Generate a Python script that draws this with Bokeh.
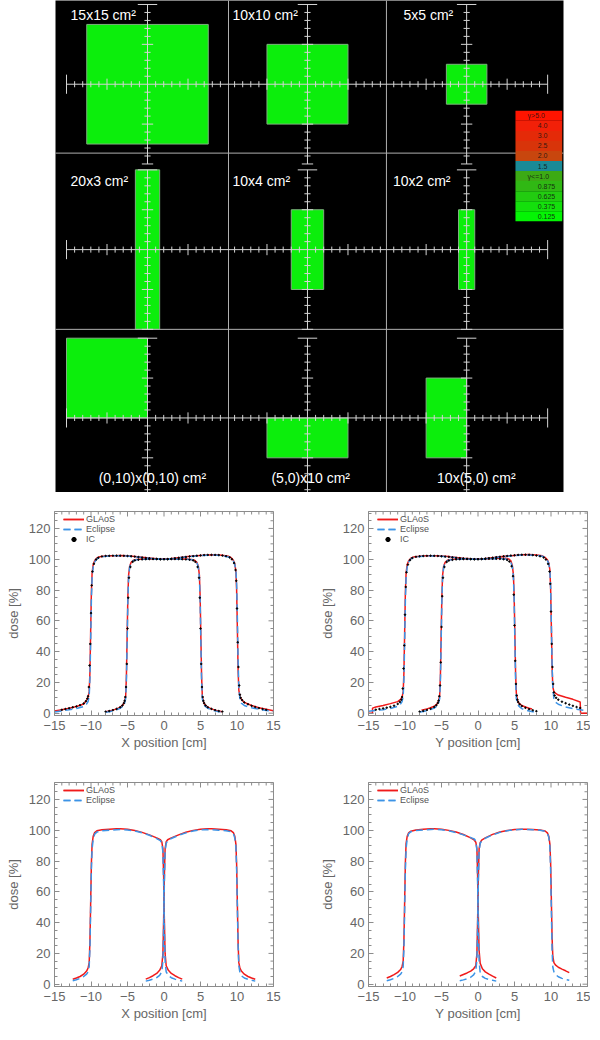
import math
from bokeh.plotting import figure
from bokeh.layouts import column, row
from bokeh.models import Range1d, SingleIntervalTicker, Legend, LegendItem
from bokeh.embed import file_html
from bokeh.resources import INLINE
from bokeh.core.properties import value

FONT = "Liberation Sans"
RED = "#f01a1a"
BLUE = "#3c93e6"
AXC = "#8c8c8c"
TXT = "#666666"

# ---------------- top panel: gamma maps ----------------
field_labels = ["15x15 cm²", "10x10 cm²", "5x5 cm²",
                "20x3 cm²", "10x4 cm²", "10x2 cm²",
                "(0,10)x(0,10) cm²", "(5,0)x10 cm²", "10x(5,0) cm²"]
field_row = [0, 0, 0, 1, 1, 1, 2, 2, 2]
field_col = [0, 1, 2, 0, 1, 2, 0, 1, 2]
field_x1 = [-7.5, -5, -2.5, -1.5, -2, -1, -10, -5, -5]
field_x2 = [7.5, 5, 2.5, 1.5, 2, 1, 0, 5, 0]
field_y1 = [-7.5, -5, -2.5, -10, -5, -5, 0, -5, -5]
field_y2 = [7.5, 5, 2.5, 10, 5, 5, 10, 0, 5]

gamma_labels = ["γ>5.0", "4.0", "3.0", "2.5", "2.0", "1.5",
                "γ<=1.0", "0.875", "0.625", "0.375", "0.125"]
gamma_colors = ["#ff1400", "#f22008", "#e42a08", "#d8340a", "#c8460e", "#1a8a96",
                "#3caa14", "#30b814", "#22cc10", "#14e00c", "#04f404"]

# ---------------- profiles ----------------
# X profiles (20x20 and 10x10)
xw = [-15, -14, -13, -12, -11, -10.6, -10.4, -10.25, -10.15, -10.05, -9.95, -9.85, -9.7, -9.5, -9.2,
      -8.8, -8, -7, -6, -5, -4, -3, -2, -1, 0, 1, 2, 3, 4, 5, 6, 7, 8, 8.8, 9.2,
      9.5, 9.7, 9.85, 9.95, 10.05, 10.15, 10.25, 10.4, 10.6, 11, 12, 13, 14, 15]
glaos_x_wide = [1.5, 2.3, 3.2, 4.3, 6, 8.5, 10.5, 14, 26, 52, 78, 91, 96.5, 99, 100.8,
                101.6, 102.1, 102.3, 102.4, 102.2, 101.8, 101.3, 100.8, 100.3, 100.1,
                100.4, 101, 101.6, 102.1, 102.5, 102.8, 102.9, 102.6, 102, 101,
                99.3, 97, 92, 80, 55, 28, 15, 11, 9, 7, 5, 3.6, 2.5, 1.6]
eclipse_x_wide = [0.8, 1.5, 2.2, 3, 4.3, 6, 7.5, 11, 22, 46, 73, 88, 95, 98.2, 100.2,
                  101.2, 101.9, 102.2, 102.3, 102.1, 101.6, 101.1, 100.6, 100.2, 100,
                  100.2, 100.8, 101.4, 101.9, 102.3, 102.6, 102.7, 102.3, 101.5, 100.5,
                  98.8, 96.5, 92.5, 84, 62, 34, 17, 9, 6.5, 5, 3.5, 2.6, 1.8, 1.2]
xn = [-8, -7.5, -7, -6.5, -6, -5.6, -5.4, -5.25, -5.15, -5.05, -4.95, -4.85, -4.7, -4.5, -4.2,
      -3.8, -3, -2, -1, 0, 1, 2, 3, 3.8, 4.2, 4.5, 4.7, 4.85, 4.95, 5.05,
      5.15, 5.25, 5.4, 5.6, 6, 6.5, 7, 7.5, 8]
glaos_x_narrow = [0.9, 1.4, 2, 2.8, 3.9, 5.6, 7.5, 11, 24, 50, 76, 89.5, 95.5, 98, 99.3,
                  99.8, 100.1, 100.2, 100.1, 100, 100.1, 100.2, 100.1, 99.8, 99.3, 98, 95.5, 89.5, 76, 50,
                  24, 11, 7.5, 5.6, 3.9, 2.8, 2, 1.4, 0.9]
eclipse_x_narrow = [0.6, 1, 1.5, 2.2, 3.2, 4.6, 6.3, 9.5, 21, 46, 73, 88, 95, 97.8, 99.1,
                    99.7, 100, 100.1, 100, 100, 100, 100.1, 100, 99.7, 99.1, 97.8, 95, 88, 73, 46,
                    21, 9.5, 6.3, 4.6, 3.2, 2.2, 1.5, 1, 0.6]
ic_w = [-14, -13.5, -13, -12.5, -12, -11.5, -11,
        -10.7, -10.5, -10.4, -10.3, -10.2, -10.1, -10.0, -9.9, -9.8, -9.6, -9.3, -9,
        -8.5, -8, -7.5, -7, -6.5, -6, -5.5, -5, -4.5, -4, -3.5, -3, -2.5, -2, -1.5, -1, -0.5,
        0, 0.5, 1, 1.5, 2, 2.5, 3, 3.5, 4, 4.5, 5, 5.5, 6, 6.5, 7, 7.5, 8, 8.5,
        9, 9.3, 9.6, 9.8, 9.9, 10.0, 10.1, 10.2, 10.3, 10.4, 10.5, 10.7,
        11, 11.5, 12, 12.5, 13, 13.5, 14]
ic_x_wide = [2.2, 2.7, 3.2, 3.8, 4.4, 5.2, 6.3,
             7.8, 9.5, 11, 17, 31, 45, 65, 83, 92, 97, 99.8, 101,
             101.8, 102.1, 102.2, 102.3, 102.3, 102.3, 102.2, 102.1, 101.9, 101.7, 101.4, 101.1, 100.8,
             100.6, 100.3, 100.2, 100, 100, 100.1, 100.3, 100.6, 100.9, 101.2, 101.5, 101.8, 102, 102.3,
             102.5, 102.7, 102.8, 102.8, 102.8, 102.7, 102.4, 102,
             101.2, 100, 97.5, 93, 86, 68, 46, 30, 18, 12, 10, 8.5,
             7, 5.8, 4.8, 4, 3.3, 2.7, 2.2]
ic_n = [-8, -7.5, -7, -6.5, -6, -5.7, -5.5, -5.4, -5.3, -5.2, -5.1, -5.0, -4.9, -4.8, -4.6, -4.3,
        -4, -3.5, -3, -2.5, -2, -1.5, -1, -0.5, 0, 0.5, 1, 1.5, 2, 2.5, 3, 3.5, 4,
        4.3, 4.6, 4.8, 4.9, 5.0, 5.1, 5.2, 5.3, 5.4, 5.5, 5.7, 6, 6.5, 7, 7.5, 8]
ic_x_narrow = [1, 1.4, 2, 2.8, 3.8, 5, 6.5, 8, 10.5, 17, 32, 55, 75, 88, 95, 98.3,
               99.2, 99.7, 99.9, 100, 100.1, 100.1, 100.1, 100, 100, 100, 100.1, 100.1, 100.1, 100, 99.9, 99.7, 99.2,
               98.3, 95, 88, 75, 55, 32, 17, 10.5, 8, 6.5, 5, 3.8, 2.8, 2, 1.4, 1]

# Y profiles (20x20 and 10x10)
yw_glaos = [-15, -14.45, -14.45, -14, -13, -12, -11, -10.6, -10.4, -10.25, -10.15, -10.05,
            -9.95, -9.85, -9.7, -9.5, -9.2, -8.8, -8, -7, -6, -5, -4, -3, -2, -1, 0,
            1, 2, 3, 4, 5, 6, 7, 8, 8.8, 9.2, 9.5, 9.7, 9.85, 9.95, 10.05,
            10.15, 10.25, 10.4, 10.6, 11, 12, 13, 14, 14.05, 15]
glaos_y_wide = [0, 0, 3.3, 4, 5, 6.2, 7.5, 9, 10.5, 14, 26, 52,
                78, 91, 96.5, 99, 100.7, 101.5, 102, 102.2, 102.3, 102.1, 101.7, 101.2, 100.7, 100.3, 100,
                100.4, 101, 101.6, 102.1, 102.5, 102.9, 103, 102.8, 102.2, 101.2, 99.6, 97.5, 93, 81, 56,
                30, 17, 14, 13, 11.8, 10.3, 9, 7.3, 0, 0]
eclipse_y_wide = [1.2, 1.7, 2.3, 3.1, 4.5, 6, 7.5, 11, 22, 46, 73, 88, 95, 98.2, 100.2,
                  101.1, 101.8, 102, 102.1, 101.9, 101.5, 101, 100.5, 100.2, 100,
                  100.3, 100.8, 101.4, 101.9, 102.3, 102.7, 102.8, 102.6, 102, 101,
                  99.3, 97, 92, 82, 58, 31, 16, 9.5, 7.2, 5.8, 4, 3, 2.2, 1.4]
yn_glaos = [-7.75, -7, -6.5, -6, -5.6, -5.4, -5.25, -5.15, -5.05, -4.95, -4.85, -4.7, -4.5, -4.2,
            -3.8, -3, -2, -1, 0, 1, 2, 3, 3.8, 4.2, 4.5, 4.7, 4.85, 4.95, 5.05,
            5.15, 5.25, 5.4, 5.6, 6, 6.5, 7, 7.4]
glaos_y_narrow = [2, 2.8, 3.5, 4.5, 6, 8, 11.5, 24, 50, 76, 89.5, 95.5, 98, 99.3,
                  99.8, 100.1, 100.2, 100.1, 100, 100.2, 100.4, 100.6, 100.6, 100.2, 99, 96, 90, 77, 52,
                  26, 13, 8.5, 6.5, 5, 4, 3.2, 2.7]
eclipse_y_narrow = [0.7, 1.1, 1.6, 2.3, 3.3, 4.7, 6.4, 9.5, 21, 46, 73, 88, 95, 97.8, 99.1,
                    99.7, 100, 100.1, 100, 100, 100.1, 100.3, 100.4, 100.2, 99.5, 98, 95.2, 88.5, 74, 47,
                    21, 9.5, 6.3, 4.5, 3, 2, 1.4, 1, 0.7]
ic_y_wide = [2.3, 2.7, 3.1, 3.6, 4.1, 4.9, 6,
             7.3, 8.8, 10.5, 16, 29, 44, 64, 82, 91.5, 96.5, 99.5, 100.8,
             101.6, 101.9, 102.1, 102.2, 102.3, 102.2, 102.1, 101.9, 101.7, 101.5, 101.2, 100.9, 100.7,
             100.5, 100.3, 100.1, 100, 100, 100.2, 100.4, 100.7, 101, 101.3, 101.6, 101.9, 102.1, 102.4,
             102.6, 102.8, 102.9, 102.9, 102.9, 102.7, 102.4, 101.9,
             101.1, 99.8, 97, 92, 84, 66, 45, 30, 19, 13.5, 11.5, 10,
             8.8, 7.5, 6.5, 5.6, 4.8, 4, 3.4]
ic_y_narrow = [1, 1.5, 2.1, 2.9, 4, 5.2, 6.7, 8.2, 11, 18, 33, 56, 76, 88, 95, 98.2,
               99.1, 99.6, 99.9, 100, 100.1, 100.1, 100.1, 100, 100, 100.1, 100.2, 100.3, 100.3, 100.3, 100.2, 100, 99.5,
               98.5, 95.5, 89, 77, 57, 34, 19, 11.5, 8.8, 7.2, 5.8, 4.6, 3.5, 2.6, 1.9, 1.3]

# half-blocked fields
hl = [-12.5, -12, -11.5, -11, -10.6, -10.4, -10.25, -10.15, -10.05, -9.95, -9.85, -9.7, -9.5, -9.2,
      -8.5, -7.5, -6.5, -6, -5, -4, -3, -2, -1, -0.5, -0.3, -0.15, -0.05, 0.05, 0.15,
      0.3, 0.6, 1, 1.5, 2, 2.5]
hr = [-2.5, -2, -1.5, -1, -0.6, -0.3, -0.15, -0.05, 0.05, 0.15, 0.3, 0.5, 1, 2, 3,
      4, 5, 6, 6.5, 7.5, 8.5, 9.2, 9.5, 9.7, 9.85, 9.95, 10.05, 10.15, 10.25, 10.4,
      10.6, 11, 11.5, 12, 12.5]
glaos_hx_left = [3.2, 4, 5, 6.5, 8.5, 10.5, 14, 27, 52, 78, 91, 96, 98.5, 99.6,
                 100.3, 100.6, 100.9, 101, 100.6, 99.8, 98.6, 97, 95, 93.8, 92.5, 88, 70, 42, 20,
                 12, 9, 7, 5.5, 4.3, 3.3]
glaos_hx_right = [3.3, 4.3, 5.5, 7, 9, 12, 20, 42, 70, 88, 92.5, 93.8, 95, 97, 98.7,
                  99.9, 100.6, 101, 100.9, 100.6, 100.3, 99.6, 98.5, 96, 91, 78, 52, 27, 14, 10.5,
                  8.5, 6.5, 5, 4, 3.2]
eclipse_hx_left = [2.2, 2.9, 3.8, 5, 6.5, 8, 11.5, 23, 48, 74, 88, 94, 97.5, 98.8,
                   99.6, 100, 100.3, 100.4, 100.2, 99.5, 98.3, 96.7, 94.6, 93.3, 91.5, 86, 66, 36, 15,
                   8, 5.5, 4.2, 3.3, 2.6, 2]
eclipse_hx_right = [2, 2.6, 3.3, 4.3, 5.7, 8, 15, 36, 66, 86, 91.5, 93.3, 94.6, 96.7, 98.3,
                    99.5, 100.2, 100.4, 100.3, 100, 99.7, 99, 98, 95, 89, 74, 50, 25, 12, 7.5,
                    5.5, 4, 3.2, 2.6, 2]
glaos_hy_left = [4, 5, 6.2, 7.7, 9.5, 11.5, 15, 28, 53, 79, 91.5, 96, 98.3, 99.4,
                 100.2, 100.6, 100.9, 101, 100.7, 99.9, 98.8, 97.2, 95, 93.5, 92.2, 88, 70, 43, 22,
                 13.5, 10, 8, 6.5, 5.2, 4]
glaos_hy_right = [5.3, 6.3, 7.3, 8.5, 10, 12, 20, 42, 70, 88, 92, 93.5, 95, 97.3, 98.8,
                  99.8, 100.4, 100.7, 100.7, 100.5, 100.2, 99.5, 98.3, 96, 91, 79, 55, 30, 18, 14,
                  12.5, 11, 9.8, 8.7, 7.5]
eclipse_hy_left = [2.2, 2.9, 3.8, 5, 6.5, 8, 11.5, 23, 48, 74, 88, 94.5, 97.8, 99,
                   99.8, 100.2, 100.5, 100.6, 100.3, 99.6, 98.5, 97, 95.2, 94.3, 93, 87, 65, 35, 15,
                   7.5, 5, 3.8, 3, 2.5, 2]
eclipse_hy_right = [2.2, 2.8, 3.5, 4.5, 6, 8.5, 16, 38, 67, 86, 91.5, 93, 94.8, 97, 98.6,
                    99.7, 100.3, 100.6, 100.6, 100.3, 100, 99.3, 98, 95.5, 89, 74, 48, 22, 11, 8,
                    6.5, 4.8, 3.8, 3, 2.6]

x_tick_overrides = {-15: "−15", -10: "−10", -5: "−5"}

# ---------------- top figure ----------------
col_cx = [0.0, 19.75, 39.4]
row_cy = [0.0, -20.74, -41.85]

top = figure(width=584, height=492, x_range=Range1d(-11.36, 51.36), y_range=Range1d(-51.2, 10.5),
             output_backend="svg", toolbar_location=None, x_axis_location=None, y_axis_location=None,
             min_border_left=55, min_border_right=21, min_border_top=0, min_border_bottom=0)
top.background_fill_color = "black"
top.border_fill_color = "white"
top.outline_line_color = None
top.grid.visible = False

fl = [col_cx[c] + a for c, a in zip(field_col, field_x1)]
fr = [col_cx[c] + a for c, a in zip(field_col, field_x2)]
fb = [row_cy[r] + a for r, a in zip(field_row, field_y1)]
ft = [row_cy[r] + a for r, a in zip(field_row, field_y2)]
top.quad(left=fl, right=fr, bottom=fb, top=ft, fill_color="#0cee0c", line_color="#7fb07f", line_width=1)

# cell borders
top.segment([10.0, 29.5], [-60, -60], [10.0, 29.5], [20, 20], line_color="#b0b0b0", line_width=1)
top.segment([-20, -20], [-8.64, -30.74], [60, 60], [-8.64, -30.74], line_color="#b0b0b0", line_width=1)

# crosshair rulers
sx0, sy0, sx1, sy1 = [], [], [], []
for r in range(3):
    cy = row_cy[r]
    sx0.append(col_cx[0] - 10); sx1.append(col_cx[2] + 10); sy0.append(cy); sy1.append(cy)
    for end in (col_cx[0] - 10, col_cx[2] + 10):
        sx0.append(end); sx1.append(end); sy0.append(cy - 1.2); sy1.append(cy + 1.2)
    for c in range(3):
        cx = col_cx[c]
        sx0.append(cx); sx1.append(cx); sy0.append(cy - 10); sy1.append(cy + 10)
        sx0.append(cx - 1.2); sx1.append(cx + 1.2); sy0.append(cy + 10); sy1.append(cy + 10)
        for k in range(-10, 11):
            if k == 0:
                continue
            h = 0.7 if k % 5 == 0 else 0.38
            if abs(k) < 10:
                sx0.append(cx + k); sx1.append(cx + k); sy0.append(cy - h); sy1.append(cy + h)
            if k < 10:
                sx0.append(cx - h); sx1.append(cx + h); sy0.append(cy + k); sy1.append(cy + k)
top.segment(sx0, sy0, sx1, sy1, line_color="#d4d4d4", line_width=1)

# field labels
lab_dx = [-9.5, -9.26, -7.8, -9.5, -9.26, -9.1, 0.6, 0.4, 1.2]
lab_dy = [8.64, 8.64, 8.64, 8.64, 8.64, 8.64, -7.5, -7.5, -7.5]
lab_al = ["left"] * 6 + ["center"] * 3
for i in range(9):
    top.text([col_cx[field_col[i]] + lab_dx[i]], [row_cy[field_row[i]] + lab_dy[i]], [field_labels[i]],
             text_font=value(FONT), text_font_size="14px", text_color="white",
             text_align=lab_al[i], text_baseline="middle")

# gamma colour legend
cb_l, cb_r, cb_top, cb_h = 45.43, 51.2, -3.33, 1.26
n = len(gamma_labels)
cb_t = [cb_top - i * cb_h for i in range(n)]
cb_b = [t - cb_h for t in cb_t]
top.quad(left=[cb_l] * n, right=[cb_r] * n, top=cb_t, bottom=cb_b, fill_color=gamma_colors, line_color=None)
tx = [cb_l + 1.5 if s.startswith("γ") else cb_l + 2.75 for s in gamma_labels]
top.text(tx, [t - cb_h / 2 for t in cb_t], gamma_labels, text_font=value(FONT), text_font_size="7px",
         text_color="#111111", text_align="left", text_baseline="middle", text_alpha=0.85)


# ---------------- profile figures ----------------
def style_axis(ax):
    ax.axis_line_color = AXC
    ax.major_tick_line_color = AXC
    ax.minor_tick_line_color = AXC
    ax.major_tick_in = 5
    ax.major_tick_out = 0
    ax.minor_tick_in = 3
    ax.minor_tick_out = 0
    ax.major_label_text_font = FONT
    ax.major_label_text_font_size = "13px"
    ax.major_label_text_color = TXT
    ax.axis_label_text_font = FONT
    ax.axis_label_text_font_size = "13px"
    ax.axis_label_text_color = TXT
    ax.axis_label_text_font_style = "normal"


x_mirror = list(range(-15, 16))
y_mirror = list(range(0, 131, 5))
ROW_H = 10


def profile(xlab, g_curves, e_curves, ic_curves, width, height, left, right, bottom):
    p = figure(width=width, height=height, x_range=Range1d(-15, 15), y_range=Range1d(-1.5, 131),
               output_backend="svg", toolbar_location=None,
               min_border_left=left, min_border_right=right, min_border_top=19, min_border_bottom=bottom)
    p.grid.visible = False
    p.outline_line_color = AXC
    xa = p.xaxis[0]
    ya = p.yaxis[0]
    xa.ticker = SingleIntervalTicker(interval=5, num_minor_ticks=5)
    ya.ticker = SingleIntervalTicker(interval=20, num_minor_ticks=4)
    xa.axis_label = xlab
    ya.axis_label = "dose [%]"
    xa.major_label_overrides = x_tick_overrides
    style_axis(xa)
    style_axis(ya)
    xa.major_label_standoff = 5
    ya.major_label_standoff = 4
    xa.axis_label_standoff = 2
    ya.axis_label_standoff = 5
    # mirrored inward ticks on the top and right frame edges (outer half is clipped by the frame)
    p.scatter(x_mirror, [131] * len(x_mirror), marker="dash", angle=math.pi / 2,
              size=[10 if v % 5 == 0 else 6 for v in x_mirror], line_color=AXC, line_width=1)
    p.scatter([15] * len(y_mirror), y_mirror, marker="dash",
              size=[10 if v % 20 == 0 else 6 for v in y_mirror], line_color=AXC, line_width=1)
    rg = [p.line(x, y, line_color=RED, line_width=1.5) for x, y in g_curves]
    re = [p.line(x, y, line_color=BLUE, line_width=1.5, line_dash="7 4") for x, y in e_curves]
    items = [LegendItem(label="GLAoS", renderers=rg), LegendItem(label="Eclipse", renderers=re)]
    if ic_curves:
        ri = [p.scatter(x, y, marker="circle", size=1.5, fill_color="black", line_color="black")
              for x, y in ic_curves]
        items.append(LegendItem(label="IC", renderers=ri))
    leg_h = ROW_H * len(items)
    leg = Legend(items=items, location=(9, 204 - 3 - leg_h), label_text_font=FONT, label_text_font_size="9px",
                 label_text_color="#555555", glyph_width=21, glyph_height=ROW_H, label_height=ROW_H,
                 spacing=0, padding=0, margin=0, label_standoff=2,
                 border_line_color=None, background_fill_alpha=0)
    p.add_layout(leg)
    return p


pA = profile("X position [cm]",
             [(xw, glaos_x_wide), (xn, glaos_x_narrow)],
             [(xw, eclipse_x_wide), (xn, eclipse_x_narrow)],
             [(ic_w, ic_x_wide), (ic_n, ic_x_narrow)],
             300, 271, 54, 27, 48)
pB = profile("Y position [cm]",
             [(yw_glaos, glaos_y_wide), (yn_glaos, glaos_y_narrow)],
             [(xw, eclipse_y_wide), (xn, eclipse_y_narrow)],
             [(ic_w, ic_y_wide), (ic_n, ic_y_narrow)],
             290, 271, 68, 3, 48)
pC = profile("X position [cm]",
             [(hl, glaos_hx_left), (hr, glaos_hx_right)],
             [(hl, eclipse_hx_left), (hr, eclipse_hx_right)],
             None, 300, 261, 54, 27, 38)
pD = profile("Y position [cm]",
             [(hl, glaos_hy_left), (hr, glaos_hy_right)],
             [(hl, eclipse_hy_left), (hr, eclipse_hy_right)],
             None, 290, 261, 68, 3, 38)

layout = column(top, row(pA, pB), row(pC, pD))
open("out.html", "w").write(file_html(layout, INLINE))
